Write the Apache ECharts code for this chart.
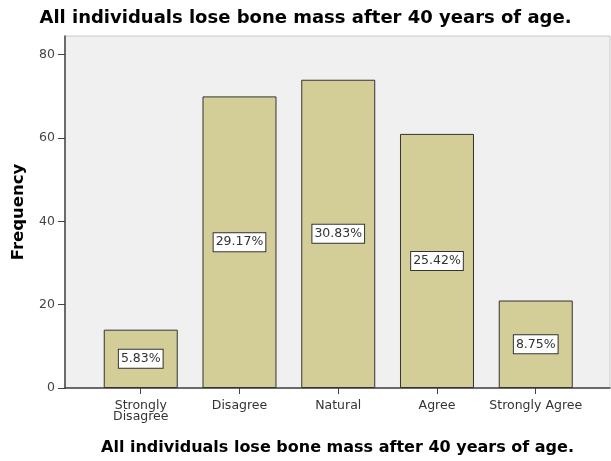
<!DOCTYPE html>
<html>
<head>
<meta charset="utf-8">
<script src="https://cdn.jsdelivr.net/npm/echarts@6/dist/echarts.min.js"></script>
<style>
  html, body { margin: 0; padding: 0; background: #fff; }
  #myChart { width: 611px; height: 461px; }
</style>
</head>
<body>
<div id="myChart"></div>
<script>
// answer categories and frequencies
const categories = ['Strongly\nDisagree', 'Disagree', 'Natural', 'Agree', 'Strongly Agree']
const frequencies = [14, 70, 74, 61, 21]
const yTicks = [0, 20, 40, 60, 80]
const xTicks = [0, 1, 2, 3, 4]

const total = frequencies.reduce((a, b) => a + b, 0)
const percents = frequencies.map(v => (v / total * 100).toFixed(2) + '%')

const titleText = 'All individuals lose bone mass after 40 years of age.'

let myChart = echarts.init(document.getElementById('myChart'))
myChart.setOption({
  animation: false,
  title: {
    text: titleText,
    left: 'center',
    top: 4,
    textStyle: {
      fontFamily: 'DejaVu Sans',
      fontSize: 18,
      fontWeight: 'bold',
      color: '#000',
    },
  },
  grid: {
    left: 65,
    right: 1,
    top: 36,
    bottom: 73,
    show: true,
    backgroundColor: '#f0f0f0',
    borderColor: '#c8c8c8',
    borderWidth: 1,
  },
  xAxis: {
    type: 'value',
    min: -0.767,
    max: 4.752,
    name: titleText,
    nameLocation: 'middle',
    nameGap: 52,
    nameTextStyle: {
      fontFamily: 'DejaVu Sans',
      fontSize: 16,
      fontWeight: 'bold',
      color: '#000',
    },
    splitLine: { show: false },
    axisLine: { show: true, onZero: false, lineStyle: { color: '#444', width: 1.5 } },
    axisTick: {
      show: true,
      customValues: xTicks,
      length: 6,
      lineStyle: { color: '#444' },
    },
    axisLabel: {
      customValues: xTicks,
      formatter: v => categories[v],
      fontFamily: 'DejaVu Sans',
      fontSize: 12.5,
      color: '#333',
      lineHeight: 11,
      margin: 12,
    },
  },
  yAxis: {
    type: 'value',
    min: 0,
    max: 84.5,
    name: 'Frequency',
    nameLocation: 'middle',
    nameGap: 38,
    nameTextStyle: {
      fontFamily: 'DejaVu Sans',
      fontSize: 16.5,
      fontWeight: 'bold',
      color: '#000',
    },
    splitLine: { show: false },
    axisLine: { show: true, onZero: false, lineStyle: { color: '#444', width: 1.5 } },
    axisTick: {
      show: true,
      customValues: yTicks,
      length: 7,
      lineStyle: { color: '#444' },
    },
    axisLabel: {
      customValues: yTicks,
      fontFamily: 'DejaVu Sans',
      fontSize: 12.5,
      color: '#444',
      margin: 10,
    },
  },
  series: [
    {
      type: 'bar',
      data: frequencies.map((v, i) => [i, v]),
      barWidth: 74,
      itemStyle: {
        color: '#d3ce97',
        borderColor: '#333',
        borderWidth: 1,
      },
      label: {
        show: true,
        position: 'inside',
        formatter: p => percents[p.dataIndex],
        fontFamily: 'DejaVu Sans',
        fontSize: 12.5,
        color: '#333',
        backgroundColor: '#fff',
        borderColor: '#333',
        borderWidth: 1,
        padding: [3, 2, 2, 2],
      },
    },
  ],
})
</script>
</body>
</html>
